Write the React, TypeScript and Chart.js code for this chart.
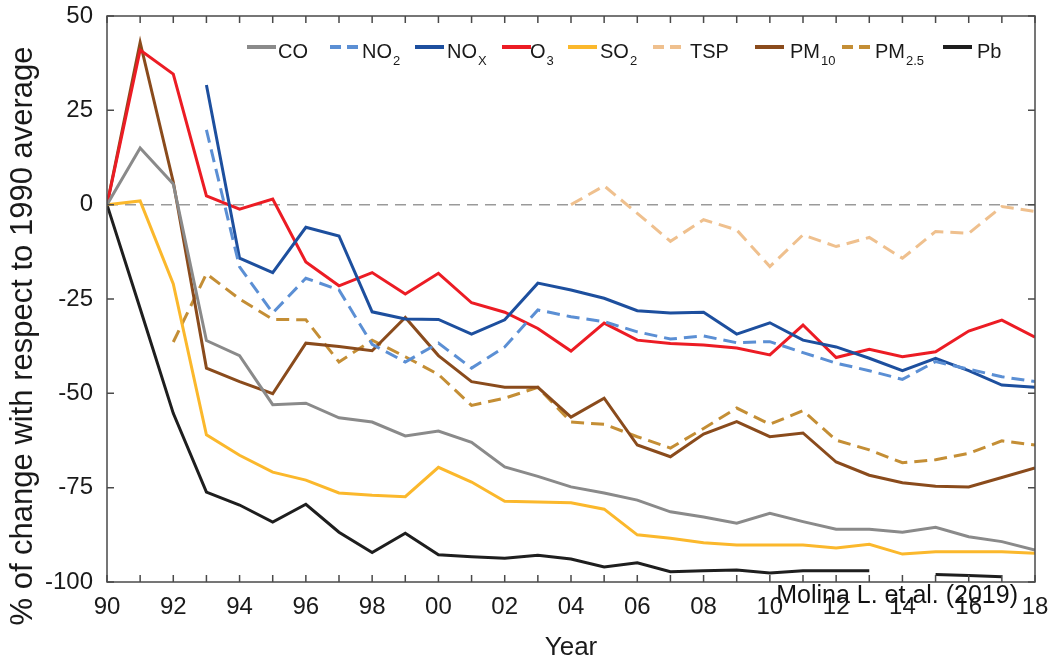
import React, { useEffect, useRef } from "react";
import { Chart, registerables } from "chart.js";

Chart.register(...registerables);

const years = [1990, 1991, 1992, 1993, 1994, 1995, 1996, 1997, 1998, 1999, 2000, 2001, 2002, 2003, 2004, 2005, 2006, 2007, 2008, 2009, 2010, 2011, 2012, 2013, 2014, 2015, 2016, 2017, 2018];

const coVals = [0, 15, 5.5, -36, -40, -53, -52.6, -56.5, -57.6, -61.3, -60, -63, -69.5, -72, -74.8, -76.4, -78.3, -81.4, -82.8, -84.4, -81.8, -84, -86, -86, -86.8, -85.5, -88, -89.3, -91.5];
const no2Vals = [null, null, null, 19.8, -16.5, -28.7, -19.5, -22.6, -37, -41.7, -36.7, -43.3, -37.7, -27.9, -29.7, -31, -33.7, -35.6, -34.8, -36.6, -36.3, -39.2, -42, -44, -46.3, -41.6, -43.6, -45.6, -46.9];
const noxVals = [null, null, null, 31.7, -14.2, -18, -6, -8.3, -28.4, -30.3, -30.4, -34.3, -30.5, -20.8, -22.6, -24.8, -28.1, -28.7, -28.5, -34.3, -31.3, -35.9, -37.7, -40.7, -44, -40.7, -44, -47.8, -48.4];
const o3Vals = [0, 41, 34.6, 2.3, -1.2, 1.5, -15.2, -21.5, -18, -23.7, -18.2, -26, -28.5, -32.8, -38.8, -31.4, -35.9, -36.8, -37.2, -38, -39.8, -31.9, -40.5, -38.3, -40.3, -39, -33.5, -30.6, -35.1];
const so2Vals = [0, 1, -21, -61, -66.4, -70.9, -73, -76.4, -77, -77.4, -69.6, -73.5, -78.6, -78.8, -79, -80.7, -87.5, -88.4, -89.6, -90.2, -90.2, -90.2, -91, -90, -92.6, -92, -92, -92, -92.4];
const tspVals = [null, null, null, null, null, null, null, null, null, null, null, null, null, null, 0, 5, -2.3, -9.7, -4, -6.7, -16.4, -8, -11.1, -8.7, -14.2, -7.1, -7.6, -0.5, -1.8];
const pm10Vals = [0, 43, 6, -43.3, -46.9, -50.1, -36.7, -37.6, -38.7, -29.9, -40, -46.9, -48.4, -48.4, -56.3, -51.3, -63.7, -66.8, -60.8, -57.5, -61.5, -60.5, -68.2, -71.7, -73.7, -74.6, -74.8, -72.3, -69.8];
const pm25Vals = [null, null, -36.4, -18.3, -25, -30.4, -30.5, -41.7, -35.9, -40.3, -45, -53.2, -51.3, -48.4, -57.6, -58.2, -61.5, -64.5, -59.3, -53.9, -58.2, -54.6, -62.4, -65, -68.4, -67.6, -65.9, -62.6, -63.7];
const pbVals = [0, -27.5, -55.3, -76.2, -79.6, -84.1, -79.4, -86.8, -92.2, -87.1, -92.8, -93.3, -93.7, -92.9, -93.9, -96, -94.9, -97.3, -97, -96.8, -97.6, -97, -97, -97, null, -98, -98.3, -98.6, null];

const yTicks = [-100, -75, -50, -25, 0, 25, 50];
const seriesNames = ["CO", "NO", "NO", "O", "SO", "TSP", "PM", "PM", "Pb"];
const seriesSubs = ["", "2", "X", "3", "2", "", "10", "2.5", ""];
const seriesColors = ["#8a8a8a", "#5b8fd4", "#1d4f9e", "#ec1c24", "#fbb82c", "#efc08e", "#8a4b1c", "#c48e35", "#1e1e1e"];
const seriesDashed = [false, true, false, false, false, true, false, true, false];
const seriesValues = [coVals, no2Vals, noxVals, o3Vals, so2Vals, tspVals, pm10Vals, pm25Vals, pbVals];

const yTitle = "% of change with respect to 1990 average";
const xTitle = "Year";
const sourceNote = "Molina L. et.al. (2019)";

const legendLineX = [247, 330, 415, 502, 568, 653, 755, 842, 943];
const legendTextX = [278, 362, 447, 530, 600, 690, 790, 875, 977];

const FONT = "'Liberation Sans', Arial, sans-serif";
const DASH = [13, 7];

const framePlugin = {
  id: "framePlugin",
  beforeDatasetsDraw(chart: any) {
    const { ctx, chartArea, scales } = chart;
    const y0 = scales.y.getPixelForValue(0);
    ctx.save();
    ctx.strokeStyle = "#9a9a9a";
    ctx.lineWidth = 1.5;
    ctx.setLineDash([11, 7]);
    ctx.beginPath();
    ctx.moveTo(chartArea.left, y0);
    ctx.lineTo(chartArea.right, y0);
    ctx.stroke();
    ctx.restore();
  },
  afterDraw(chart: any) {
    const { ctx, chartArea, scales } = chart;
    const { left, right, top, bottom } = chartArea;
    ctx.save();
    ctx.strokeStyle = "#4a4a4a";
    ctx.lineWidth = 1.5;
    ctx.setLineDash([]);
    ctx.strokeRect(left, top, right - left, bottom - top);
    const tl = 7;
    ctx.beginPath();
    for (const yr of years) {
      const x = scales.x.getPixelForValue(yr);
      ctx.moveTo(x, bottom);
      ctx.lineTo(x, bottom - tl);
      ctx.moveTo(x, top);
      ctx.lineTo(x, top + tl);
    }
    for (const v of yTicks) {
      const y = scales.y.getPixelForValue(v);
      ctx.moveTo(left, y);
      ctx.lineTo(left + tl, y);
      ctx.moveTo(right, y);
      ctx.lineTo(right - tl, y);
    }
    ctx.stroke();

    // legend
    for (let i = 0; i < seriesNames.length; i++) {
      const lx = legendLineX[i];
      const ly = 47;
      ctx.strokeStyle = seriesColors[i];
      ctx.lineWidth = 4;
      ctx.setLineDash(seriesDashed[i] ? [11, 6] : []);
      ctx.beginPath();
      ctx.moveTo(lx, ly);
      ctx.lineTo(lx + 29, ly);
      ctx.stroke();
      ctx.setLineDash([]);
      ctx.fillStyle = "#1a1a1a";
      ctx.textBaseline = "alphabetic";
      ctx.textAlign = "left";
      ctx.font = `20px ${FONT}`;
      const tx = legendTextX[i];
      ctx.fillText(seriesNames[i], tx, 58);
      if (seriesSubs[i]) {
        const w = ctx.measureText(seriesNames[i]).width;
        ctx.font = `13px ${FONT}`;
        ctx.fillText(seriesSubs[i], tx + w + 1, 65);
      }
    }

    // y axis title
    ctx.fillStyle = "#1a1a1a";
    ctx.save();
    ctx.translate(23, 336);
    ctx.rotate(-Math.PI / 2);
    ctx.font = `31px ${FONT}`;
    ctx.textAlign = "center";
    ctx.textBaseline = "middle";
    ctx.fillText(yTitle, 0, 0);
    ctx.restore();

    // x axis title
    ctx.font = `26px ${FONT}`;
    ctx.textAlign = "center";
    ctx.textBaseline = "middle";
    ctx.fillText(xTitle, (left + right) / 2, 648);

    // annotation
    ctx.fillStyle = "#111";
    ctx.font = `25px ${FONT}`;
    ctx.textAlign = "right";
    ctx.textBaseline = "alphabetic";
    ctx.fillText(sourceNote, 1018, 603);
    ctx.restore();
  },
};

export default function App() {
  const ref = useRef<HTMLCanvasElement | null>(null);
  useEffect(() => {
    const canvas = ref.current;
    if (!canvas) return;
    const datasets = seriesValues.map((vals, i) => ({
      label: seriesNames[i] + seriesSubs[i],
      data: years.map((yr, j) => ({ x: yr, y: vals[j] })),
      borderColor: seriesColors[i],
      backgroundColor: seriesColors[i],
      borderWidth: 3,
      borderDash: seriesDashed[i] ? DASH : [],
      pointRadius: 0,
      spanGaps: false,
      tension: 0,
      fill: false,
    }));
    const chart = new Chart(canvas, {
      type: "line",
      data: { datasets },
      options: {
        animation: false,
        responsive: false,
        layout: { padding: { left: 0, top: 16, right: 13, bottom: 0 } },
        plugins: { legend: { display: false }, tooltip: { enabled: false } },
        scales: {
          x: {
            type: "linear",
            min: 1990,
            max: 2018,
            grid: { display: false, drawTicks: false },
            border: { display: false },
            ticks: {
              stepSize: 1,
              autoSkip: false,
              maxRotation: 0,
              padding: 11,
              color: "#1a1a1a",
              font: { family: FONT, size: 24 },
              callback: (v: any) => (Number(v) % 2 === 0 ? String(Number(v) % 100).padStart(2, "0") : ""),
            },
            afterFit: (s: any) => {
              s.height = 81;
              s.paddingLeft = 0;
              s.paddingRight = 0;
            },
          },
          y: {
            type: "linear",
            min: -100,
            max: 50,
            grid: { display: false, drawTicks: false },
            border: { display: false },
            ticks: {
              stepSize: 25,
              padding: 14,
              color: "#1a1a1a",
              font: { family: FONT, size: 24 },
            },
            afterFit: (s: any) => {
              s.width = 107;
              s.paddingTop = 0;
              s.paddingBottom = 0;
            },
          },
        },
      },
      plugins: [framePlugin],
    });
    return () => chart.destroy();
  }, []);
  return (
    <div style={{ position: "fixed", left: 0, top: 0, width: 1048, height: 663, background: "#fff" }}>
      <canvas ref={ref} width={1048} height={663} style={{ display: "block" }} />
    </div>
  );
}
